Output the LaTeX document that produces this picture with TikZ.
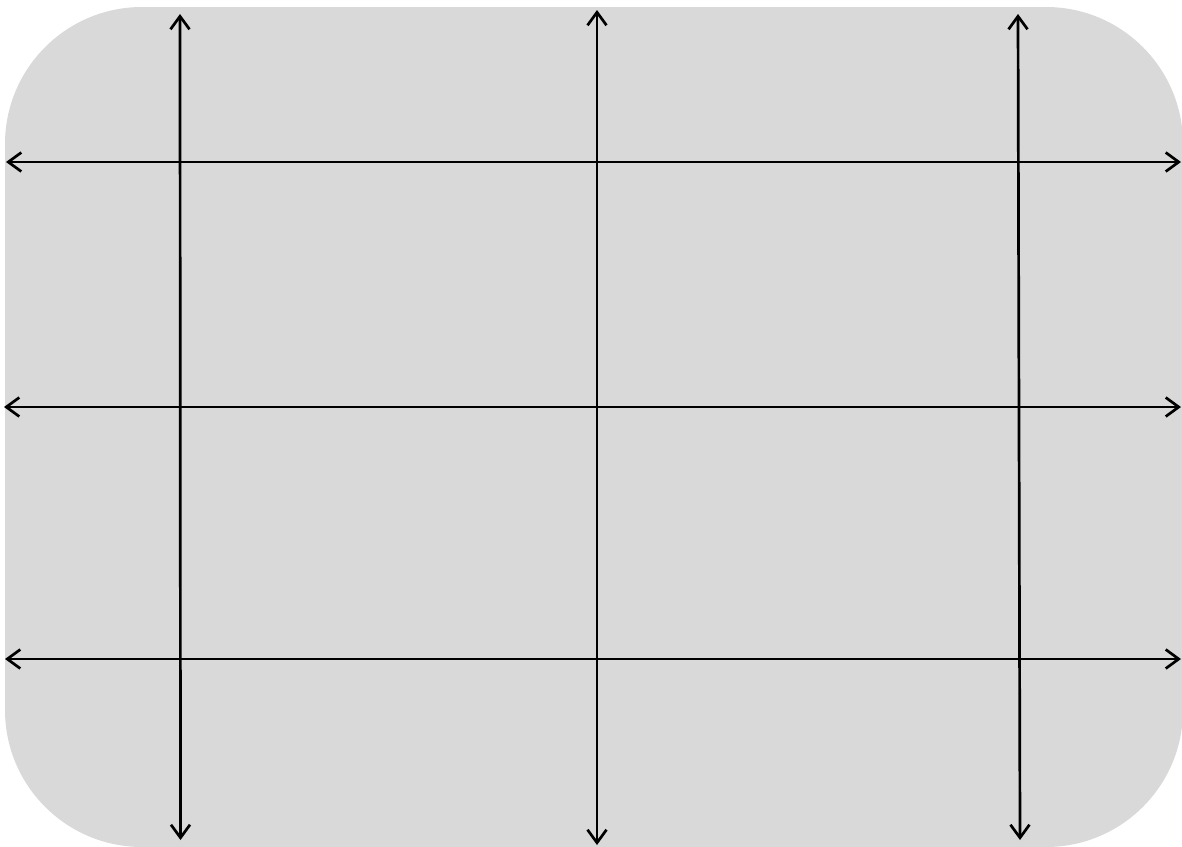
\documentclass[tikz,border=0pt]{standalone}
\usetikzlibrary{arrows.meta}
\definecolor{panelgray}{RGB}{217,217,217}
\tikzset{
  panel/.style={fill=panelgray, draw=none, rounded corners=137pt},
  axisline/.style={draw=black, line width=2.7pt, {Straight Barb[length=13pt,width=19pt,line width=2.7pt]}-{Straight Barb[length=13pt,width=19pt,line width=2.7pt]}}
}
\begin{document}
\begin{tikzpicture}[x=1pt,y=-1pt]
\useasboundingbox (0,0) rectangle (1182,846);
\path[panel] (5,7) rectangle (1183,847);
% vertical arrows
\coordinate (v1t) at (180,14);  \coordinate (v1b) at (180.5,840);
\coordinate (v2t) at (597,10);  \coordinate (v2b) at (597,845);
\coordinate (v3t) at (1018,14); \coordinate (v3b) at (1020,840);
% horizontal arrows
\coordinate (h1l) at (6,162);   \coordinate (h1r) at (1181,162);
\coordinate (h2l) at (4,407);   \coordinate (h2r) at (1181,407);
\coordinate (h3l) at (5,659);   \coordinate (h3r) at (1181,659);
\draw[axisline] (v1b) -- (v1t);
\draw[axisline] (v2b) -- (v2t);
\draw[axisline] (v3b) -- (v3t);
\draw[axisline] (h1l) -- (h1r);
\draw[axisline] (h2l) -- (h2r);
\draw[axisline] (h3l) -- (h3r);
\end{tikzpicture}
\end{document}
